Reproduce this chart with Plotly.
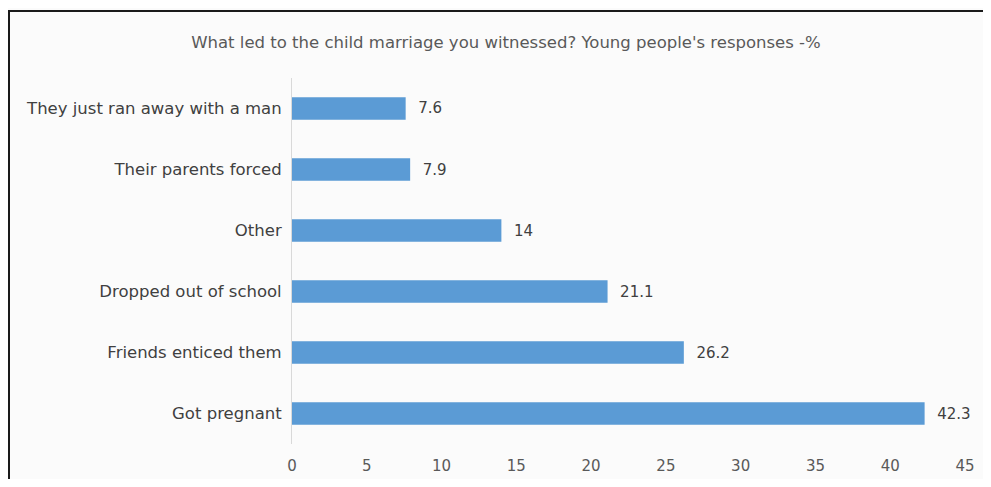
import plotly.graph_objects as go

categories = ["Got pregnant", "Friends enticed them", "Dropped out of school",
              "Other", "Their parents forced", "They just ran away with a man"]
values = [42.3, 26.2, 21.1, 14, 7.9, 7.6]
value_labels = ["42.3", "26.2", "21.1", "14", "7.9", "7.6"]
x_ticks = [0, 5, 10, 15, 20, 25, 30, 35, 40, 45]

# page has an 8px body margin; figure coordinates are page coordinates minus 8
OFF = 8
W, H = 991 - 2 * OFF, 487 - 2 * OFF
ml, mr, mt, mb = 292 - OFF, W - (965 - OFF), 78 - OFF, H - (444 - OFF)
pw, ph = W - ml - mr, H - mt - mb

def px(xpage):
    return (xpage - OFF - ml) / pw

def py(ypage):
    return 1 - (ypage - OFF - mt) / ph

wide = "DejaVu Sans, Verdana, sans-serif"
nb = "\u00a0\u00a0"

fig = go.Figure(go.Bar(
    x=values, y=categories, orientation="h",
    marker=dict(color="#5b9bd5", line=dict(width=0)),
    text=[nb + t for t in value_labels], textposition="outside", cliponaxis=False,
    textfont=dict(size=15, color="#404040", family=wide),
    width=0.37,
))

fig.update_layout(
    width=W, height=H,
    margin=dict(l=ml, r=mr, t=mt, b=mb),
    paper_bgcolor="#fbfbfb", plot_bgcolor="rgba(0,0,0,0)",
    showlegend=False,
    title=dict(text="What led to the child marriage you witnessed? Young people's responses -%",
               x=(506 - OFF) / W, xanchor="center", y=1 - (42 - OFF) / H, yanchor="middle",
               font=dict(size=16.5, color="#595959", family=wide)),
    xaxis=dict(range=[0, 45], tickvals=x_ticks, showgrid=False, zeroline=False,
               showline=False, ticks="", fixedrange=True, ticklabelstandoff=11,
               automargin=False,
               tickfont=dict(size=15, color="#595959", family=wide)),
    yaxis=dict(showgrid=False, zeroline=False, showline=True, linecolor="#d9d9d9",
               linewidth=1, ticks="", categoryorder="array", categoryarray=categories,
               ticklabelstandoff=6, automargin=False,
               tickfont=dict(size=16.5, color="#404040", family=wide)),
    shapes=[
        dict(type="line", xref="paper", yref="paper", x0=px(8), x1=px(991), y0=py(11), y1=py(11),
             line=dict(color="#1a1a1a", width=2)),
        dict(type="line", xref="paper", yref="paper", x0=px(9), x1=px(9), y0=py(11), y1=py(487),
             line=dict(color="#1a1a1a", width=2)),
    ],
)

fig.write_html("out.html")
